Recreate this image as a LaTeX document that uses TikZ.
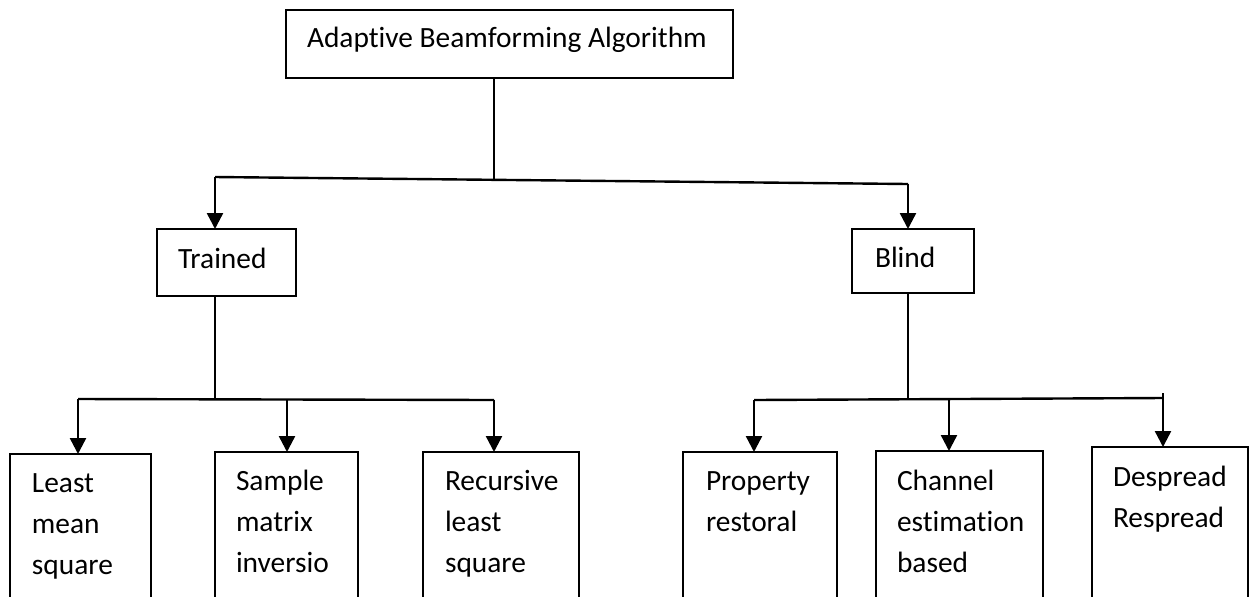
\documentclass[tikz,border=0pt]{standalone}
\usepackage{fontspec}
\setmainfont[Ligatures=NoCommon]{Carlito}
\usetikzlibrary{arrows.meta}
% left-aligned lines whose reference point is the first baseline
\newcommand\stacklines[1]{\begin{tabular}[t]{@{}l@{}}#1\end{tabular}}
\begin{document}
\begin{tikzpicture}[x=0.5pt,y=-0.5pt,
  box/.style={draw, rectangle, anchor=north west, inner sep=0pt, outer sep=0pt, line width=1.1pt},
  lbl/.style={anchor=base west, inner sep=0pt, outer sep=0pt, font=\fontsize{14.7pt}{20.5pt}\selectfont},
  link/.style={line width=1.2pt},
  arr/.style={link, -{Triangle[width=8pt,length=8pt]}}]

\path[use as bounding box] (0,0) rectangle (1254,596);
\clip (0,0) rectangle (1254,596);

% boxes
\node[box, minimum width=223.5pt, minimum height=34pt] (top) at (286,10) {};
\node[box, minimum width=69.5pt, minimum height=33.5pt] (trained) at (157,229) {};
\node[box, minimum width=61pt, minimum height=32pt] (blind) at (852,229) {};
\node[box, minimum width=70.5pt, minimum height=81pt] (lms) at (10,454) {};
\node[box, minimum width=71.5pt, minimum height=82pt] (smi) at (215,452) {};
\node[box, minimum width=78pt, minimum height=82pt] (rls) at (423,452) {};
\node[box, minimum width=77pt, minimum height=82pt] (prop) at (683,452) {};
\node[box, minimum width=83.5pt, minimum height=82.5pt] (chan) at (876,451) {};
\node[box, minimum width=78pt, minimum height=84.5pt] (desp) at (1092,447) {};

% labels
\node[lbl] (toptxt) at (307,47) {Adaptive Beamforming Algorithm};
\node[lbl] (trainedtxt) at (178,268) {Trained};
\node[lbl] (blindtxt) at (875,267) {Blind};
\node[lbl] (lmstxt) at (32,492) {\stacklines{Least\\mean\\square}};
\node[lbl] (smitxt) at (236,490) {\stacklines{Sample\\matrix\\inversio}};
\node[lbl] (rlstxt) at (445,490) {\stacklines{Recursive\\least\\square}};
\node[lbl] (proptxt) at (706,490) {\stacklines{Property\\restoral}};
\node[lbl] (chantxt) at (897,490) {\stacklines{Channel\\estimation\\based}};
\node[lbl] (desptxt) at (1113,486) {\stacklines{Despread\\Respread}};

% first level split
\coordinate (ja) at (215,177);
\coordinate (jb) at (908,184);
\coordinate (jm) at (494,179.8);
\draw[link] (top.south -| jm) -- (jm);
\draw[link] (ja) -- (jb);
\draw[arr] (ja) -- (trained.north -| ja);
\draw[arr] (jb) -- (blind.north -| jb);

% trained branch
\coordinate (ta) at (78,399);
\coordinate (tb) at (287,399.5);
\coordinate (tc) at (494,400);
\draw[link] (trained.south -| ja) -- (ja |- ta);
\draw[link] (ta) -- (tc);
\draw[arr] (ta) -- (lms.north -| ta);
\draw[arr] (tb) -- (smi.north -| tb);
\draw[arr] (tc) -- (rls.north -| tc);

% blind branch
\coordinate (ba) at (754,400);
\coordinate (bb) at (949,399.5);
\coordinate (bc) at (1163,398);
\coordinate (bt) at (1163,393);
\draw[link] (blind.south -| jb) -- (jb |- ba);
\draw[link] (ba) -- (bc);
\draw[arr] (ba) -- (prop.north -| ba);
\draw[arr] (bb) -- (chan.north -| bb);
\draw[arr] (bt) -- (desp.north -| bt);
\end{tikzpicture}
\end{document}
